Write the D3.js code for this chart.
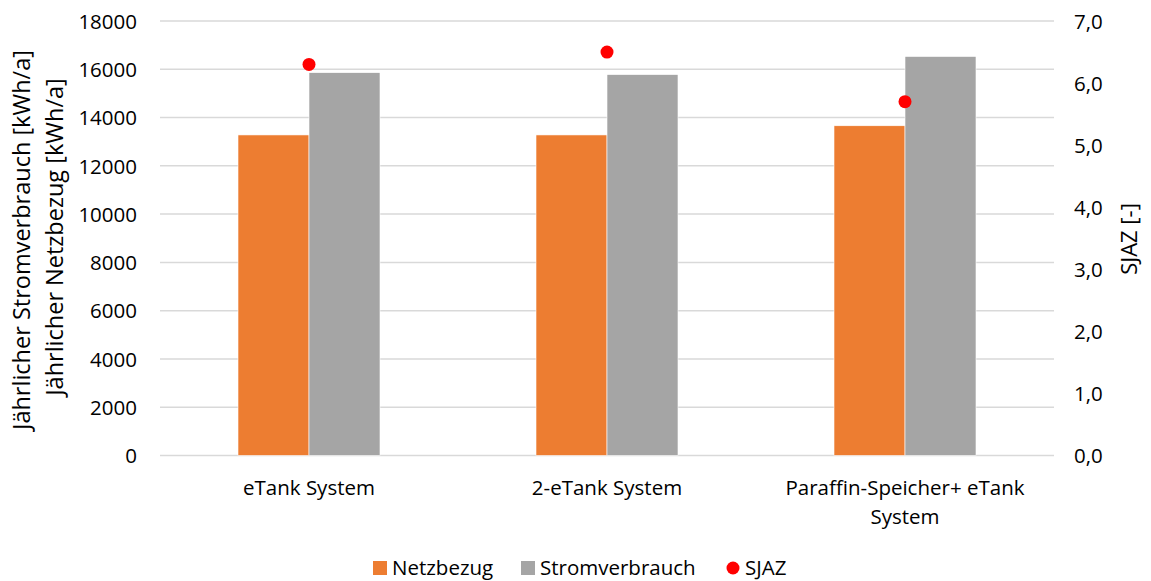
<!DOCTYPE html>
<html>
<head>
<meta charset="utf-8">
<script src="https://cdn.jsdelivr.net/npm/d3@7"></script>
<style>
  body { margin: 0; background: #fff; }
  text { font-family: "Open Sans", sans-serif; fill: #000; }
</style>
</head>
<body>
<div id="chart"></div>
<script>
const categories = ['eTank System', '2-eTank System', 'Paraffin-Speicher+ eTank System'];
const netzbezug = [13280, 13280, 13660];
const stromverbrauch = [15860, 15780, 16530];
const sjaz = [6.3, 6.5, 5.7];
const leftTicks = [0, 2000, 4000, 6000, 8000, 10000, 12000, 14000, 16000, 18000];
const rightTicks = [0, 1, 2, 3, 4, 5, 6, 7];
const seriesNames = ['Netzbezug', 'Stromverbrauch'];

const width = 1151, height = 581;
const svg = d3.select('#chart').append('svg').attr('width', width).attr('height', height);

const plotL = 160, plotR = 1054, plotT = 21, plotB = 455.5;

const x0 = d3.scaleBand().domain(categories).range([plotL, plotR]).padding(0);
const x1 = d3.scaleBand().domain(seriesNames).range([78, 220]).padding(0);
const yL = d3.scaleLinear().domain([0, 18000]).range([plotB, plotT]);
const yR = d3.scaleLinear().domain([0, 7]).range([plotB, plotT]);
const color = d3.scaleOrdinal().domain(seriesNames).range(['#ED7D31', '#A5A5A5']);

// gitterlinien
svg.append('g').selectAll('line')
  .data(leftTicks)
  .enter().append('line')
  .attr('x1', plotL).attr('x2', plotR)
  .attr('y1', d => yL(d)).attr('y2', d => yL(d))
  .attr('stroke', '#D9D9D9')
  .attr('stroke-width', 1.5);

// linke achse
const leftAxis = svg.append('g')
  .attr('transform', 'translate(137,0)')
  .call(d3.axisLeft(yL).tickValues(leftTicks).tickSize(0).tickPadding(0).tickFormat(d3.format('d')));
leftAxis.select('.domain').remove();
leftAxis.selectAll('text').style('font-size', '20.5px').attr('dy', '0.35em');

// rechte achse
const rightAxis = svg.append('g')
  .attr('transform', 'translate(1074,0)')
  .call(d3.axisRight(yR).tickValues(rightTicks).tickSize(0).tickPadding(0).tickFormat(d => d.toFixed(1).replace('.', ',')));
rightAxis.select('.domain').remove();
rightAxis.selectAll('text').style('font-size', '20.5px').attr('dy', '0.35em');

// balken
const rows = categories.map((c, i) => ({ cat: c, values: [netzbezug[i], stromverbrauch[i]] }));
const groups = svg.append('g').selectAll('g')
  .data(rows)
  .enter().append('g')
  .attr('transform', d => 'translate(' + x0(d.cat) + ',0)');

groups.selectAll('rect')
  .data(d => d.values.map((v, j) => ({ key: seriesNames[j], value: v })))
  .enter().append('rect')
  .attr('x', d => x1(d.key))
  .attr('width', x1.bandwidth())
  .attr('y', d => yL(d.value))
  .attr('height', d => yL(0) - yL(d.value))
  .attr('fill', d => color(d.key))
  .attr('stroke', '#fff')
  .attr('stroke-width', 0.6);

// SJAZ punkte
svg.append('g').selectAll('circle')
  .data(categories)
  .enter().append('circle')
  .attr('cx', d => x0(d) + x0.bandwidth() / 2)
  .attr('cy', (d, i) => yR(sjaz[i]))
  .attr('r', 6.5)
  .attr('fill', '#FF0000');

// kategorie beschriftung
const xlabels = svg.append('g').selectAll('text')
  .data(categories)
  .enter().append('text')
  .attr('x', d => x0(d) + x0.bandwidth() / 2)
  .attr('y', 495)
  .attr('text-anchor', 'middle')
  .style('font-size', '20.5px');
xlabels.each(function(d) {
  const lines = d === 'Paraffin-Speicher+ eTank System' ? ['Paraffin-Speicher+ eTank', 'System'] : [d];
  const t = d3.select(this);
  const cx = t.attr('x');
  lines.forEach((l, k) => {
    t.append('tspan').attr('x', cx).attr('dy', k === 0 ? 0 : 29).text(l);
  });
});

// achsentitel
svg.append('text')
  .attr('transform', 'translate(30,240) rotate(-90)')
  .attr('text-anchor', 'middle')
  .style('font-size', '23.5px')
  .text('Jährlicher Stromverbrauch [kWh/a]');
svg.append('text')
  .attr('transform', 'translate(63,237) rotate(-90)')
  .attr('text-anchor', 'middle')
  .style('font-size', '23.5px')
  .text('Jährlicher Netzbezug [kWh/a]');
svg.append('text')
  .attr('transform', 'translate(1137,239) rotate(-90)')
  .attr('text-anchor', 'middle')
  .style('font-size', '22px')
  .text('SJAZ [-]');

// legende
const legend = svg.append('g').attr('transform', 'translate(0,568)');
const legItems = [
  { name: 'Netzbezug', type: 'rect', x: 373 },
  { name: 'Stromverbrauch', type: 'rect', x: 521 },
  { name: 'SJAZ', type: 'circle', x: 726 }
];
legItems.forEach(it => {
  if (it.type === 'rect') {
    legend.append('rect').attr('x', it.x).attr('y', -7).attr('width', 14).attr('height', 14)
      .attr('fill', color(it.name));
  } else {
    legend.append('circle').attr('cx', it.x + 7).attr('cy', 0).attr('r', 6.5).attr('fill', '#FF0000');
  }
  legend.append('text').attr('x', it.x + 19).attr('y', 0).attr('dy', '0.33em')
    .style('font-size', '20.5px').text(it.name);
});
</script>
</body>
</html>
